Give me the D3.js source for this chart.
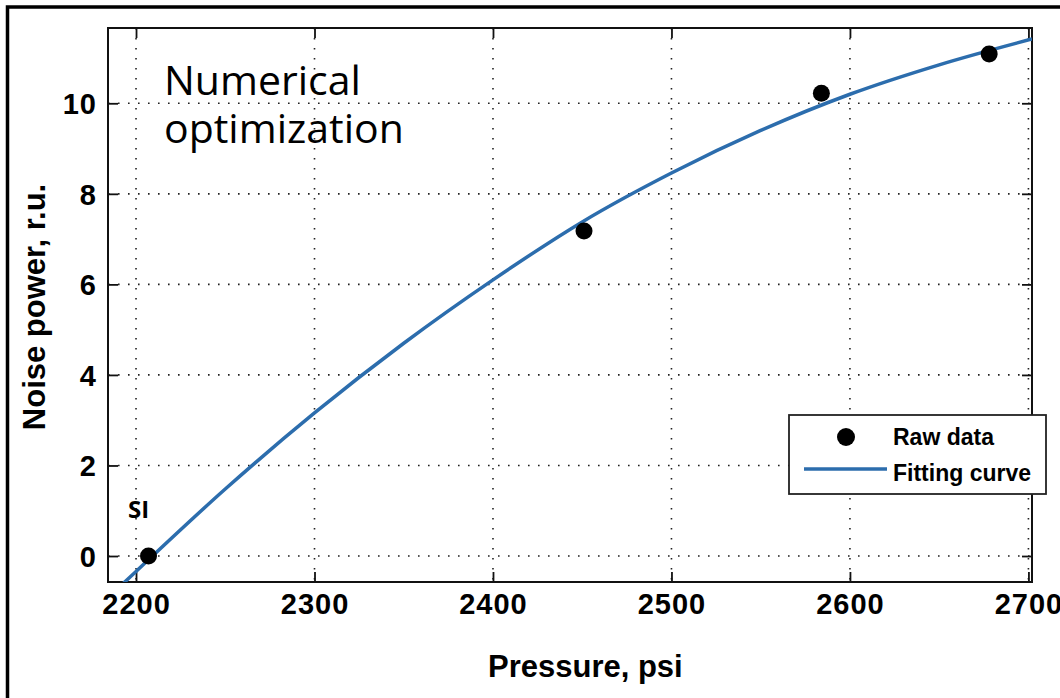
<!DOCTYPE html>
<html>
<head>
<meta charset="utf-8">
<script src="https://cdn.jsdelivr.net/npm/d3@7"></script>
<style>
  body { margin: 0; background: #fff; }
  svg { display: block; }
</style>
</head>
<body>
<div id="chart"></div>
<script>
// data
const rawPressure = [2207, 2451, 2584, 2678];
const rawNoise = [0.0, 7.18, 10.22, 11.09];
const fitPressure = [2190, 2200, 2250, 2300, 2350, 2400, 2450, 2500, 2550, 2600, 2650, 2702];
const fitNoise = [-0.71, -0.34, 1.48, 3.16, 4.70, 6.10, 7.38, 8.46, 9.40, 10.20, 10.85, 11.42];
const xTicks = [2200, 2300, 2400, 2500, 2600, 2700];
const yTicks = [0, 2, 4, 6, 8, 10];
const xLimits = [2184.3, 2702];
const yLimits = [-0.574, 11.663];
const legendLabels = ["Raw data", "Fitting curve"];

// constants
const w = 1060,
      h = 698,
      pLeft = 108,
      pRight = 1032,
      pTop = 28,
      pBottom = 582;

const blue = "#2c6dad";
const tickFont = "'Liberation Sans', Arial, sans-serif";

let svg = d3.select("#chart")
            .append("svg")
            .attr("width", w)
            .attr("height", h);

// outer frame (runs off the right and bottom of the picture)
svg.append("rect")
   .attr("x", 7.5)
   .attr("y", 7)
   .attr("width", w + 20)
   .attr("height", h + 20)
   .attr("fill", "#fff")
   .attr("stroke", "#000")
   .attr("stroke-width", 3.5);

let xScale = d3.scaleLinear()
               .domain(xLimits)
               .range([pLeft, pRight]);
let yScale = d3.scaleLinear()
               .domain(yLimits)
               .range([pBottom, pTop]);

// dotted grid
let grid = svg.append("g")
              .attr("stroke", "#222")
              .attr("stroke-width", 1.6)
              .attr("stroke-dasharray", "1.6,8.4");
grid.selectAll("line.gx")
    .data(xTicks)
    .enter()
    .append("line")
    .attr("class", "gx")
    .attr("x1", (d) => xScale(d))
    .attr("x2", (d) => xScale(d))
    .attr("y1", pTop)
    .attr("y2", pBottom);
grid.selectAll("line.gy")
    .data(yTicks)
    .enter()
    .append("line")
    .attr("class", "gy")
    .attr("x1", pLeft)
    .attr("x2", pRight)
    .attr("y1", (d) => yScale(d))
    .attr("y2", (d) => yScale(d));

// axes, ticks pointing inward on all four sides
let xAxis = d3.axisBottom(xScale).tickValues(xTicks).tickFormat(d3.format("d"))
              .tickSizeInner(-10).tickSizeOuter(0).tickPadding(20);
let yAxis = d3.axisLeft(yScale).tickValues(yTicks).tickFormat(d3.format("d"))
              .tickSizeInner(-10).tickSizeOuter(0).tickPadding(20);
let xAxisTop = d3.axisTop(xScale).tickValues(xTicks).tickSizeInner(-10).tickSizeOuter(0).tickFormat("");
let yAxisRight = d3.axisRight(yScale).tickValues(yTicks).tickSizeInner(-10).tickSizeOuter(0).tickFormat("");

let gx = svg.append("g")
            .attr("id", "x-axis")
            .attr("transform", `translate(0, ${pBottom})`)
            .call(xAxis);
let gy = svg.append("g")
            .attr("id", "y-axis")
            .attr("transform", `translate(${pLeft}, 0)`)
            .call(yAxis);
svg.append("g")
   .attr("transform", `translate(0, ${pTop})`)
   .call(xAxisTop);
svg.append("g")
   .attr("transform", `translate(${pRight}, 0)`)
   .call(yAxisRight);

svg.selectAll(".domain").remove();
svg.selectAll(".tick line")
   .attr("stroke", "#111")
   .attr("stroke-width", 1.8);

gx.selectAll("text")
  .attr("font-family", tickFont)
  .attr("font-weight", "bold")
  .attr("font-size", 29)
  .attr("letter-spacing", 1)
  .attr("fill", "#000")
  .attr("dy", "0.71em")
  .attr("y", 11);
gy.selectAll("text")
  .attr("font-family", tickFont)
  .attr("font-weight", "bold")
  .attr("font-size", 29)
  .attr("letter-spacing", 1)
  .attr("fill", "#000")
  .attr("x", -11)
  .attr("dy", "0.36em");

// axes box
svg.append("rect")
   .attr("x", pLeft)
   .attr("y", pTop)
   .attr("width", pRight - pLeft)
   .attr("height", pBottom - pTop)
   .attr("fill", "none")
   .attr("stroke", "#111")
   .attr("stroke-width", 2);

// fitting curve
svg.append("clipPath")
   .attr("id", "plot-clip")
   .append("rect")
   .attr("x", pLeft)
   .attr("y", pTop)
   .attr("width", pRight - pLeft)
   .attr("height", pBottom - pTop);

let line = d3.line()
             .x((d, i) => xScale(fitPressure[i]))
             .y((d) => yScale(d))
             .curve(d3.curveMonotoneX);
svg.append("path")
   .datum(fitNoise)
   .attr("clip-path", "url(#plot-clip)")
   .attr("d", line)
   .attr("fill", "none")
   .attr("stroke", blue)
   .attr("stroke-width", 3.5);

// raw data points
svg.selectAll("circle.raw")
   .data(rawNoise)
   .enter()
   .append("circle")
   .attr("class", "raw")
   .attr("cx", (d, i) => xScale(rawPressure[i]))
   .attr("cy", (d) => yScale(d))
   .attr("r", 8.5)
   .attr("fill", "#000");

// axis titles
svg.append("text")
   .attr("x", 488)
   .attr("y", 677)
   .attr("font-family", tickFont)
   .attr("font-weight", "bold")
   .attr("font-size", 31)
   .attr("fill", "#000")
   .text("Pressure, psi");
svg.append("text")
   .attr("transform", "translate(45, 307) rotate(-90)")
   .attr("text-anchor", "middle")
   .attr("font-family", tickFont)
   .attr("font-weight", "bold")
   .attr("font-size", 31)
   .attr("fill", "#000")
   .text("Noise power, r.u.");

// annotations
let note = svg.append("text")
              .attr("font-family", "'Open Sans', sans-serif")
              .attr("font-size", 41)
              .attr("fill", "#000");
note.append("tspan").attr("x", 164).attr("y", 95).text("Numerical");
note.append("tspan").attr("x", 164).attr("y", 143).text("optimization");

svg.append("text")
   .attr("x", 128)
   .attr("y", 518)
   .attr("font-family", "'Open Sans', sans-serif")
   .attr("font-weight", "bold")
   .attr("font-size", 24)
   .attr("fill", "#000")
   .text("SI");

// legend
let legend = svg.append("g");
legend.append("rect")
      .attr("x", 789)
      .attr("y", 415)
      .attr("width", 257)
      .attr("height", 79)
      .attr("fill", "#fff")
      .attr("stroke", "#222")
      .attr("stroke-width", 1.8);
legend.append("circle")
      .attr("cx", 846)
      .attr("cy", 437)
      .attr("r", 9)
      .attr("fill", "#000");
legend.append("line")
      .attr("x1", 804)
      .attr("x2", 887)
      .attr("y1", 469)
      .attr("y2", 469)
      .attr("stroke", blue)
      .attr("stroke-width", 3.5);
legend.selectAll("text")
      .data(legendLabels)
      .enter()
      .append("text")
      .attr("x", 893)
      .attr("y", (d, i) => 445 + i * 36)
      .attr("font-family", tickFont)
      .attr("font-weight", "bold")
      .attr("font-size", 23)
      .attr("fill", "#000")
      .text((d) => d);
</script>
</body>
</html>
